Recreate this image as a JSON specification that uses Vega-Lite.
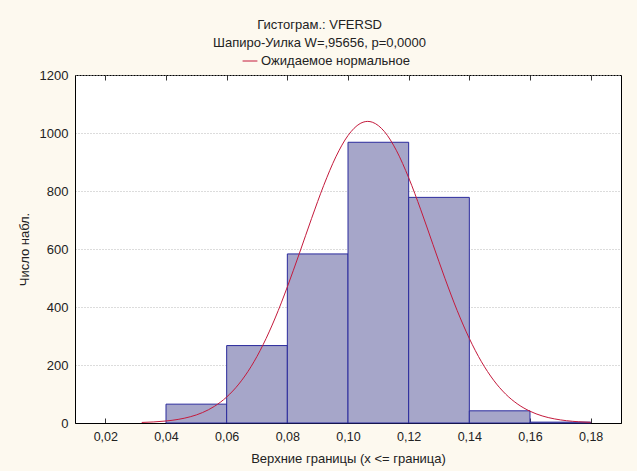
{
  "$schema": "https://vega.github.io/schema/vega-lite/v6.json",
  "width": 546,
  "height": 348,
  "autosize": "none",
  "padding": {"left": 75, "top": 75, "right": 16, "bottom": 48},
  "background": "#fdf9ef",
  "config": {
    "locale": {"number": {"decimal": ",", "thousands": "", "grouping": [3], "currency": ["", ""]}},
    "view": {"fill": "white", "stroke": "black", "strokeWidth": 1},
    "font": "Liberation Sans",
    "axis": {
      "labelFontSize": 13,
      "titleFontSize": 13,
      "titleFontWeight": "normal",
      "labelColor": "#222222",
      "titleColor": "#222222",
      "domainColor": "black",
      "tickColor": "#333333"
    },
    "legend": {"labelFontSize": 13, "labelColor": "#222222"}
  },
  "title": {
    "text": ["Гистограм.: VFERSD", "Шапиро-Уилка W=,95656, p=0,0000"],
    "fontSize": 13,
    "fontWeight": "normal",
    "color": "#222222",
    "lineHeight": 18,
    "anchor": "middle",
    "frame": "bounds",
    "offset": 3
  },
  "datasets": {
    "bins": [
      {"lower": 0.04, "upper": 0.06, "count": 65},
      {"lower": 0.06, "upper": 0.08, "count": 267},
      {"lower": 0.08, "upper": 0.10, "count": 583},
      {"lower": 0.10, "upper": 0.12, "count": 968},
      {"lower": 0.12, "upper": 0.14, "count": 778},
      {"lower": 0.14, "upper": 0.16, "count": 42},
      {"lower": 0.16, "upper": 0.18, "count": 3}
    ],
    "curve": [
      {"x": 0.032, "expected": 1.9},
      {"x": 0.036, "expected": 3.7},
      {"x": 0.040, "expected": 6.9},
      {"x": 0.044, "expected": 12.4},
      {"x": 0.048, "expected": 21.5},
      {"x": 0.052, "expected": 35.8},
      {"x": 0.056, "expected": 57.7},
      {"x": 0.060, "expected": 89.6},
      {"x": 0.064, "expected": 134.2},
      {"x": 0.068, "expected": 193.7},
      {"x": 0.072, "expected": 269.8},
      {"x": 0.076, "expected": 362.2},
      {"x": 0.080, "expected": 469.2},
      {"x": 0.084, "expected": 585.8},
      {"x": 0.088, "expected": 705.5},
      {"x": 0.092, "expected": 819.4},
      {"x": 0.096, "expected": 917.8},
      {"x": 0.100, "expected": 991.3},
      {"x": 0.104, "expected": 1032.6},
      {"x": 0.1065, "expected": 1040},
      {"x": 0.108, "expected": 1037.3},
      {"x": 0.112, "expected": 1005.0},
      {"x": 0.116, "expected": 938.8},
      {"x": 0.120, "expected": 845.8},
      {"x": 0.124, "expected": 735.0},
      {"x": 0.128, "expected": 615.8},
      {"x": 0.132, "expected": 497.5},
      {"x": 0.136, "expected": 387.7},
      {"x": 0.140, "expected": 291.4},
      {"x": 0.144, "expected": 211.2},
      {"x": 0.148, "expected": 147.6},
      {"x": 0.152, "expected": 99.4},
      {"x": 0.156, "expected": 64.7},
      {"x": 0.160, "expected": 40.6},
      {"x": 0.164, "expected": 24.5},
      {"x": 0.168, "expected": 14.3},
      {"x": 0.172, "expected": 8.0},
      {"x": 0.176, "expected": 4.3},
      {"x": 0.180, "expected": 2.3}
    ]
  },
  "resolve": {"axis": {"x": "independent"}},
  "layer": [
    {
      "data": {"name": "bins"},
      "mark": {"type": "rect", "fill": "#a6a6c9", "stroke": "#2a2a9c", "strokeWidth": 1},
      "encoding": {
        "x": {
          "field": "lower",
          "type": "quantitative",
          "scale": {"domain": [0.01, 0.19], "nice": false, "zero": false},
          "axis": {
            "orient": "bottom",
            "values": [0.02, 0.04, 0.06, 0.08, 0.10, 0.12, 0.14, 0.16, 0.18],
            "format": ".2f",
            "labelFontSize": 12.5,
            "grid": false,
            "tickSize": -5,
            "labelPadding": 12,
            "title": "Верхние границы (x <= граница)",
            "titlePadding": 10
          }
        },
        "x2": {"field": "upper"},
        "y": {
          "field": "count",
          "type": "quantitative",
          "scale": {"domain": [0, 1200], "nice": false},
          "axis": {
            "values": [0, 200, 400, 600, 800, 1000, 1200],
            "format": "d",
            "grid": true,
            "gridColor": "#b8b8b8",
            "gridDash": [1, 2],
            "ticks": false,
            "labelPadding": 7,
            "title": "Число набл.",
            "titlePadding": 8
          }
        },
        "y2": {"datum": 0}
      }
    },
    {
      "data": {"name": "curve"},
      "mark": {"type": "line", "strokeWidth": 1, "interpolate": "monotone"},
      "encoding": {
        "x": {
          "field": "x",
          "type": "quantitative",
          "axis": {
            "orient": "top",
            "values": [0.02, 0.04, 0.06, 0.08, 0.10, 0.12, 0.14, 0.16, 0.18],
            "labels": false,
            "domain": false,
            "grid": false,
            "tickSize": -5,
            "title": null
          }
        },
        "y": {"field": "expected", "type": "quantitative"},
        "color": {
          "datum": "Ожидаемое нормальное",
          "scale": {"range": ["#c41a3c"]},
          "legend": {
            "orient": "none",
            "legendX": 167,
            "legendY": -22,
            "title": null,
            "symbolType": "stroke",
            "symbolSize": 220,
            "symbolStrokeWidth": 1,
            "labelOffset": 3
          }
        }
      }
    }
  ]
}
